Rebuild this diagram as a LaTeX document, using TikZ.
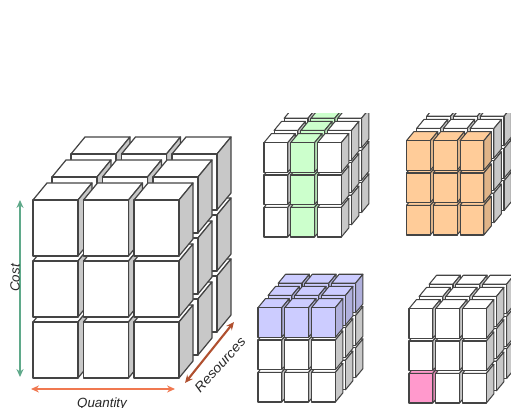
\documentclass[tikz,border=0pt]{standalone}
\usepackage{xcolor}
\usepackage{fontspec}
\setmainfont{Liberation Sans}
\usetikzlibrary{arrows.meta}
\definecolor{cellgreen}{HTML}{CCFFCC}
\definecolor{cellorange}{HTML}{FFCC99}
\definecolor{cellblue}{HTML}{CCCCFF}
\definecolor{cellpink}{HTML}{FF99CC}
\definecolor{sidegreen}{HTML}{B4E0B4}
\definecolor{sideorange}{HTML}{E0B488}
\definecolor{sideblue}{HTML}{B0B0DC}
\definecolor{sidepink}{HTML}{E088B4}
\definecolor{sidewhite}{HTML}{C8C8C8}
\definecolor{costgreen}{HTML}{5FA98A}
\definecolor{qtyorange}{HTML}{F07850}
\definecolor{resbrown}{HTML}{B0502F}
\definecolor{edgegrey}{HTML}{444444}
\tikzset{
  cubeface/.style={draw=edgegrey,line width=#1,line join=round},
  axisarrow/.style={{Stealth[length=4.5pt,width=4pt]}-{Stealth[length=4.5pt,width=4pt]},line width=1.2pt},
  axislabel/.style={font=\fontsize{7.6}{9}\selectfont\itshape,text=black!85,inner sep=0pt}
}
% origin, scale, line width, colour name, rule in \cc,\rr,\dd
\newcommand{\cubeblock}[5]{%
  \begin{scope}[shift={(#1)},scale=#2]
    \foreach \dd in {2,1,0}{
      \foreach \cc in {0,1,2}{
        \foreach \rr in {0,1,2}{
          \pgfmathtruncatemacro\ison{#5}
          \ifnum\ison=1 \def\cellcol{cell#4}\def\sidecol{side#4}\else\def\cellcol{white}\def\sidecol{sidewhite}\fi
          \begin{scope}[shift={(50.5*\cc+19*\dd,61*\rr+23*\dd)}]
            \filldraw[cubeface=#3,fill=\cellcol] (0,56) -- (14,73) -- (59,73) -- (45,56) -- cycle;
            \filldraw[cubeface=#3,fill=\sidecol] (45,0) -- (59,17) -- (59,73) -- (45,56) -- cycle;
            \filldraw[cubeface=#3,fill=\cellcol] (0,0) rectangle (45,56);
          \end{scope}
        }
      }
    }
  \end{scope}%
}
\begin{document}
\begin{tikzpicture}[x=0.02cm,y=0.02cm]
  \useasboundingbox (0,0) rectangle (511,408);
  % large cube
  \cubeblock{33,30}{1}{0.7pt}{green}{0}
  % four small cubes
  \begin{scope}
    \clip (250,0) rectangle (511,294);
    \cubeblock{264,171}{0.53}{0.6pt}{green}{\cc==1}
    \cubeblock{406.5,173}{0.53}{0.6pt}{orange}{\dd==0}
    \cubeblock{258,6}{0.53}{0.6pt}{blue}{\rr==2}
    \cubeblock{409,5}{0.53}{0.6pt}{pink}{(\cc==0)*(\rr==0)*(\dd==0)}
  \end{scope}
  % axes
  \coordinate (costlow) at (20,31);
  \coordinate (costhigh) at (20,208);
  \coordinate (qtylow) at (31,19);
  \coordinate (qtyhigh) at (175,19);
  \coordinate (reslow) at (185,25);
  \coordinate (reshigh) at (234,86);
  \draw[axisarrow,costgreen] (costlow) -- (costhigh);
  \draw[axisarrow,qtyorange] (qtylow) -- (qtyhigh);
  \draw[axisarrow,resbrown] (reslow) -- (reshigh);
  \node[axislabel,rotate=90] (costlabel) at (15,130) {Cost};
  \node[axislabel] (qtylabel) at (102,4) {Quantity};
  \node[axislabel,rotate=48,xscale=1.08] (reslabel) at (220,43) {Resources};
\end{tikzpicture}
\end{document}
